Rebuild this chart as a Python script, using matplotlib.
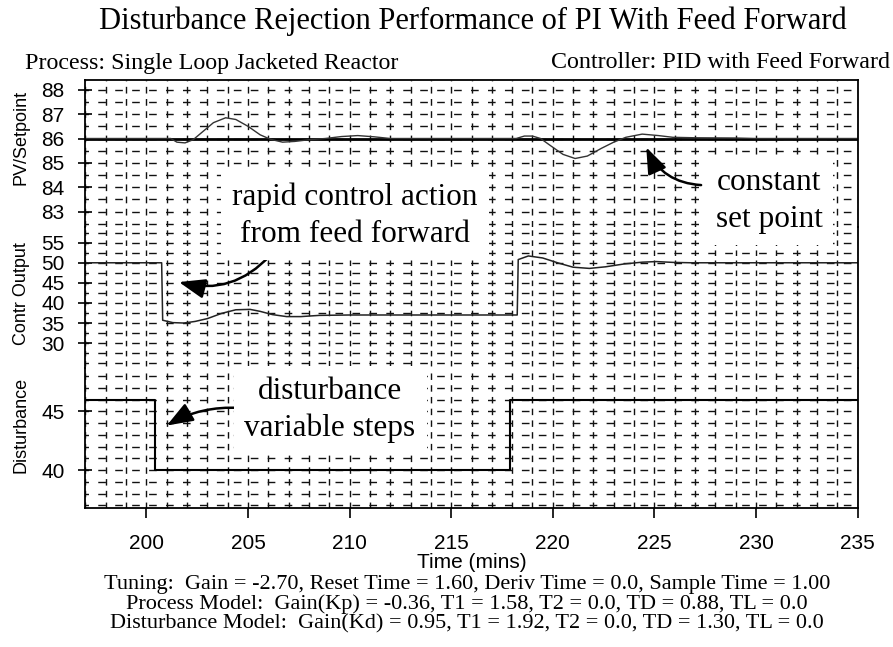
import matplotlib
matplotlib.use("Agg")
import matplotlib.pyplot as plt
from matplotlib.ticker import MultipleLocator

# values
pv_time = [197, 201.2, 201.5, 201.9, 202.3, 202.8, 203.3, 203.9, 204.4, 205.0,
           205.6, 206.1, 206.7, 207.3, 208.0, 208.8, 209.6, 210.4, 211.2, 212.0,
           218.2, 218.6, 219.0, 219.4, 219.9, 220.5, 221.1, 221.7, 222.4, 223.0,
           223.6, 224.4, 225.2, 225.9, 227.0, 229.0, 230.0, 235]
pv_value = [86.0, 86.0, 85.85, 85.82, 85.95, 86.3, 86.65, 86.85, 86.78, 86.5,
            86.15, 85.97, 85.85, 85.88, 85.95, 86.0, 86.08, 86.12, 86.07, 86.0,
            86.0, 86.1, 86.1, 86.0, 85.7, 85.35, 85.18, 85.28, 85.6, 85.85,
            86.05, 86.18, 86.12, 86.05, 86.03, 86.02, 86.0, 86.0]
sp_time = [197, 235]
sp_value = [86, 86]

co_time = [197, 200.75, 200.8, 201.3, 201.84, 202.4, 203.0, 203.7, 204.4, 205.1,
           205.6, 206.2, 206.9, 207.6, 208.5, 210.0, 218.25, 218.3, 218.8, 219.5,
           220.3, 221.0, 221.8, 222.6, 223.5, 224.4, 225.1, 225.9, 226.8, 235]
co_value = [50, 50, 35.7, 35.1, 35.0, 35.4, 36.1, 37.4, 38.3, 38.4,
            37.9, 37.1, 36.6, 36.6, 36.9, 37.0, 37.0, 50.8, 51.7, 51.2,
            49.9, 48.9, 48.6, 49.0, 49.7, 50.15, 50.3, 50.1, 50.0, 50.0]

dist_time = [197, 200.4, 217.9, 235]
dist_value = [46, 40, 46, 46]

pv_ticks = [83, 84, 85, 86, 87, 88]
co_ticks = [30, 35, 40, 45, 50, 55]
dist_ticks = [40, 45]
time_ticks = [200, 205, 210, 215, 220, 225, 230, 235]

title = "Disturbance Rejection Performance of PI With Feed Forward"
process_txt = "Process: Single Loop Jacketed Reactor"
controller_txt = "Controller: PID with Feed Forward"
footer = ["Tuning:  Gain = -2.70, Reset Time = 1.60, Deriv Time = 0.0, Sample Time = 1.00",
          "Process Model:  Gain(Kp) = -0.36, T1 = 1.58, T2 = 0.0, TD = 0.88, TL = 0.0",
          "Disturbance Model:  Gain(Kd) = 0.95, T1 = 1.92, T2 = 0.0, TD = 1.30, TL = 0.0"]

SERIF = "Liberation Serif"
SANS = "Liberation Sans"

fig = plt.figure(figsize=(8.93, 6.47), dpi=100)
left, right = 0.0957, 0.9603
# (bottom, top, ymin, ymax, row step, ticks, ylabel, label y position)
panels = [(0.6491, 0.8764, 82.37, 88.4, 0.5, pv_ticks, "PV/Setpoint", 0.61),
          (0.4312, 0.6491, 23.8, 58.9, 2.5, co_ticks, "Contr Output", 0.53),
          (0.2148, 0.4312, 36.77, 48.7, 1.0, dist_ticks, "Disturbance", 0.59)]

axes = []
for i, (b, t, ymin, ymax, step, ticks, label, label_y) in enumerate(panels):
    ax = fig.add_axes([left, b, right - left, t - b])
    ax.set_facecolor("none")
    ax.set_xlim(197, 235)
    ax.set_ylim(ymin, ymax)
    ax.set_yticks(ticks)
    ax.yaxis.set_minor_locator(MultipleLocator(step))
    ax.xaxis.set_minor_locator(MultipleLocator(1))
    ax.set_xticks(time_ticks)

    # dashed grid that gives the +, T, L pattern of the original
    h_pt = fig.get_figheight() * (t - b) * 72
    row_pt = step / (ymax - ymin) * h_pt
    first_row = (int(ymin / step) + 1) * step
    d = (first_row - ymin) / (ymax - ymin) * h_pt
    on = row_pt * 0.55
    off = row_pt - on
    voff = (on / 2 - d) % row_pt
    ax.grid(True, which="both", axis="x", color="#111111", lw=1.0,
            linestyle=(voff, (on, off)))
    ax.grid(True, which="both", axis="y", color="#111111", lw=1.0,
            linestyle=(3.0, (5.5, 6.7)))
    ax.set_axisbelow(True)

    for s in ax.spines.values():
        s.set_linewidth(1.3)
    if i > 0:
        ax.spines["top"].set_visible(False)
    if i < 2:
        ax.spines["bottom"].set_visible(False)
        ax.tick_params(axis="x", which="both", length=0, labelbottom=False)
    else:
        ax.tick_params(axis="x", which="major", direction="out", length=7,
                       width=1.2, pad=12, labelsize=15)
        ax.tick_params(axis="x", which="minor", length=0)
    ax.tick_params(axis="y", which="major", direction="inout", length=10,
                   width=1.2, labelsize=15, pad=10)
    ax.tick_params(axis="y", which="minor", length=0)
    for lab in ax.get_xticklabels() + ax.get_yticklabels():
        lab.set_family(SANS)
    ax.set_ylabel(label, fontsize=13, family=SANS)
    ax.yaxis.set_label_coords(-0.072, label_y)
    axes.append(ax)

ax_pv, ax_co, ax_dist = axes

ax_pv.plot(sp_time, sp_value, color="k", lw=2.0)
ax_pv.plot(pv_time, pv_value, color="#333333", lw=1.0)
ax_co.plot(co_time, co_value, color="#222222", lw=1.1)
ax_dist.plot(dist_time, dist_value, color="k", lw=1.5, drawstyle="steps-post")

ax_dist.set_xlabel("Time (mins)", fontsize=15, family=SANS, labelpad=0)

# arrows
head = "-|>,head_length=0.8,head_width=0.3"
ax_co.annotate("", xy=(201.6, 45.2), xytext=(206.1, 51.9),
               arrowprops=dict(arrowstyle=head, mutation_scale=20, color="k",
                               lw=1.8, connectionstyle="arc3,rad=-0.3",
                               shrinkA=0, shrinkB=0))
ax_dist.annotate("", xy=(201.0, 43.8), xytext=(204.6, 45.3),
                 arrowprops=dict(arrowstyle=head, mutation_scale=20, color="k",
                                 lw=1.8, connectionstyle="arc3,rad=0.15",
                                 shrinkA=0, shrinkB=0))
ax_pv.annotate("", xy=(224.6, 85.64), xytext=(227.3, 84.09),
               arrowprops=dict(arrowstyle=head, mutation_scale=20, color="k",
                               lw=1.8, connectionstyle="arc3,rad=-0.3",
                               shrinkA=0, shrinkB=0))

box = dict(boxstyle="square,pad=0.35", fc="white", ec="none")
fig.text(355 / 893, 1 - 216 / 647, "rapid control action\nfrom feed forward",
         ha="center", va="center", fontsize=22.5, family=SERIF, bbox=box,
         linespacing=1.35)
fig.text(330 / 893, 1 - 410 / 647, "disturbance\nvariable steps",
         ha="center", va="center", fontsize=22.5, family=SERIF, bbox=box,
         linespacing=1.35)
fig.text(769 / 893, 1 - 201 / 647, "constant\nset point",
         ha="center", va="center", fontsize=22.5, family=SERIF, bbox=box,
         linespacing=1.35)

fig.text(473 / 893, 1 - 21 / 647, title, ha="center", va="center",
         fontsize=22, family=SERIF)
fig.text(25 / 893, 1 - 63 / 647, process_txt, ha="left", va="center",
         fontsize=17.3, family=SERIF)
fig.text(890 / 893, 1 - 63 / 647, controller_txt, ha="right", va="center",
         fontsize=17.3, family=SERIF)
for k, line in enumerate(footer):
    fig.text(467 / 893, 1 - (585 + 19.5 * k) / 647, line, ha="center",
             va="center", fontsize=16, family=SERIF)

fig.savefig("out.png", dpi=100)
